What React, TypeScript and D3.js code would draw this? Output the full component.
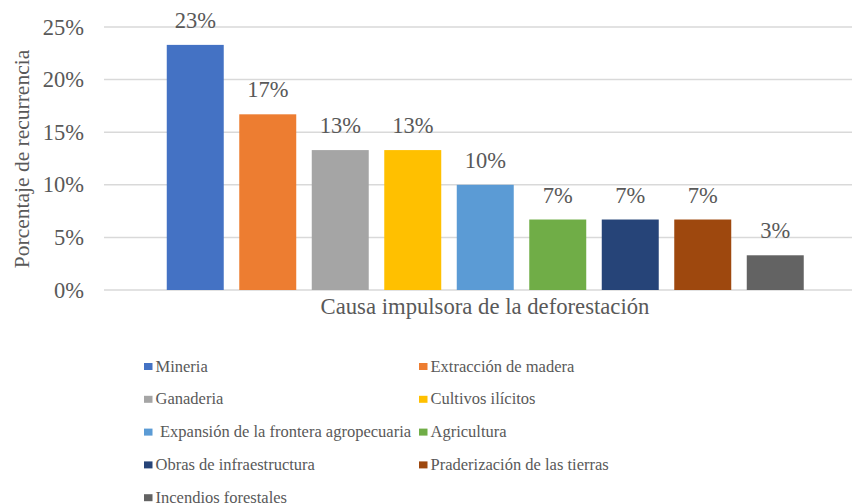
import * as d3 from "d3"

const categories = [
  "Mineria",
  "Extracción de madera",
  "Ganaderia",
  "Cultivos ilícitos",
  "Expansión de la frontera agropecuaria",
  "Agricultura",
  "Obras de infraestructura",
  "Praderización de las tierras",
  "Incendios forestales",
]
const values = [23.3, 16.7, 13.3, 13.3, 10, 6.7, 6.7, 6.7, 3.3]
const colors = [
  "#4472C4",
  "#ED7D31",
  "#A5A5A5",
  "#FFC000",
  "#5B9BD5",
  "#70AD47",
  "#264478",
  "#9E480E",
  "#636363",
]
const yTicks = [0, 5, 10, 15, 20, 25]

const width = 852
const height = 503
const font = "Liberation Serif"
const textColor = "#595959"

export default function App() {
  const y = d3.scaleLinear().domain([0, 25]).range([290, 27])
  const x = d3
    .scaleBand<string>()
    .domain(categories)
    .range([159, 811.5])
    .paddingInner(0.214)
    .paddingOuter(0.107)

  return (
    <svg
      width={width}
      height={height}
      style={{ position: "absolute", left: 0, top: 0, fontFamily: font }}
    >
      {/* gridlines */}
      {yTicks.map((t) => (
        <line key={"g" + t} x1={104} x2={width} y1={y(t)} y2={y(t)} stroke="#d9d9d9" strokeWidth={1.5} />
      ))}
      {/* y tick labels */}
      {yTicks.map((t) => (
        <text key={"t" + t} x={84} y={y(t) + 7.5} textAnchor="end" fill={textColor} style={{ fontSize: 22.5 }}>
          {t}%
        </text>
      ))}
      {/* bars */}
      {values.map((v, i) => (
        <rect
          key={"b" + i}
          x={x(categories[i])}
          y={y(v)}
          width={x.bandwidth()}
          height={y(0) - y(v)}
          fill={colors[i]}
        />
      ))}
      {/* value labels */}
      {values.map((v, i) => (
        <text
          key={"v" + i}
          x={x(categories[i])! + x.bandwidth() / 2}
          y={y(v) - 17}
          textAnchor="middle"
          fill={textColor}
          style={{ fontSize: 22.5 }}
        >
          {Math.round(v)}%
        </text>
      ))}
      {/* axis titles */}
      <text x={485} y={314} textAnchor="middle" fill={textColor} style={{ fontSize: 22.7 }}>
        Causa impulsora de la deforestación
      </text>
      <text transform="translate(29,159) rotate(-90)" textAnchor="middle" fill={textColor} style={{ fontSize: 21.5 }}>
        Porcentaje de recurrencia
      </text>
      {/* legend */}
      {categories.map((c, i) => {
        const lx = i % 2 === 0 ? 144 : 419
        const ly = 371.5 + Math.floor(i / 2) * 32.8
        return (
          <g key={"l" + i} transform={`translate(${lx},${ly})`}>
            <rect x={0} y={-8.5} width={8.5} height={7} fill={colors[i]} />
            <text x={i === 4 ? 16 : 11.5} y={0} fill={textColor} style={{ fontSize: 16.5 }}>
              {c}
            </text>
          </g>
        )
      })}
    </svg>
  )
}
